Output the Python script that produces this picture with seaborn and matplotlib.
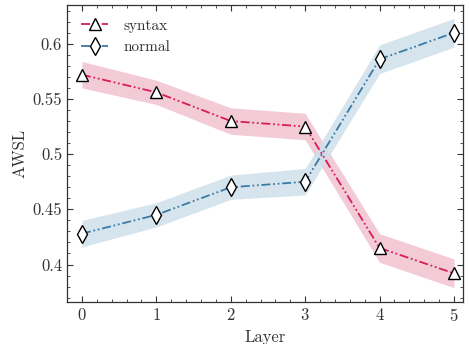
import matplotlib
matplotlib.use("Agg")
import matplotlib.pyplot as plt
import seaborn as sns
import pandas as pd
import numpy as np

layers = [0, 1, 2, 3, 4, 5]
syntax = [0.572, 0.556, 0.530, 0.525, 0.415, 0.392]
normal = [0.428, 0.445, 0.470, 0.475, 0.586, 0.610]
syntax_err = [0.012, 0.011, 0.012, 0.012, 0.013, 0.013]
normal_err = [0.012, 0.011, 0.011, 0.012, 0.013, 0.013]

sns.set_theme(style="ticks")
plt.rcParams["font.family"] = "serif"
plt.rcParams["font.serif"] = ["cmr10"]
plt.rcParams["mathtext.fontset"] = "cm"
plt.rcParams["axes.formatter.use_mathtext"] = True
plt.rcParams["axes.unicode_minus"] = False

df = pd.DataFrame({
    "Layer": layers * 2,
    "AWSL": syntax + normal,
    "kind": ["syntax"] * 6 + ["normal"] * 6,
})

colors = {"syntax": "#d81b5a", "normal": "#3a7ba6"}
bands = {"syntax": "#f2c2d0", "normal": "#cfe0ea"}
markers = {"syntax": "^", "normal": "d"}
errs = {"syntax": syntax_err, "normal": normal_err}

fig, ax = plt.subplots(figsize=(4.69, 3.44), dpi=100)

for kind in ["syntax", "normal"]:
    sub = df[df.kind == kind]
    e = np.array(errs[kind])
    ax.fill_between(sub["Layer"], sub["AWSL"] - e, sub["AWSL"] + e,
                    color=bands[kind], alpha=0.85, linewidth=0)

for kind in ["syntax", "normal"]:
    sub = df[df.kind == kind]
    sns.lineplot(data=sub, x="Layer", y="AWSL", ax=ax, color=colors[kind],
                 linestyle=(0, (5, 1.5, 1, 1.5, 1, 1.5)), linewidth=1.3,
                 marker=markers[kind], markersize=9, markerfacecolor="white",
                 markeredgecolor="black", markeredgewidth=1.0, label=kind)

ax.set_xlim(-0.2, 5.12)
ax.set_ylim(0.366, 0.635)
ax.set_xticks(layers)
ax.set_yticks([0.4, 0.45, 0.5, 0.55, 0.6])
ax.set_yticklabels(["0.4", "0.45", "0.5", "0.55", "0.6"])
ax.minorticks_on()
ax.tick_params(which="both", direction="in", top=True, right=True, labelsize=12, colors="#333333")
ax.tick_params(which="major", length=4, width=0.8)
ax.tick_params(which="minor", length=2, width=0.6)
ax.xaxis.set_minor_locator(matplotlib.ticker.AutoMinorLocator(5))
ax.yaxis.set_minor_locator(matplotlib.ticker.AutoMinorLocator(5))
for s in ax.spines.values():
    s.set_linewidth(0.9)
    s.set_color("#333333")
ax.set_xlabel("Layer", fontsize=12, color="#333333")
ax.set_ylabel("AWSL", fontsize=12, color="#333333")
ax.legend(frameon=False, loc="upper left", fontsize=11, handlelength=1.8,
          handletextpad=1.0, labelcolor="#333333")

fig.subplots_adjust(left=0.143, right=0.987, top=0.985, bottom=0.122)
fig.savefig("out.png", dpi=100)
